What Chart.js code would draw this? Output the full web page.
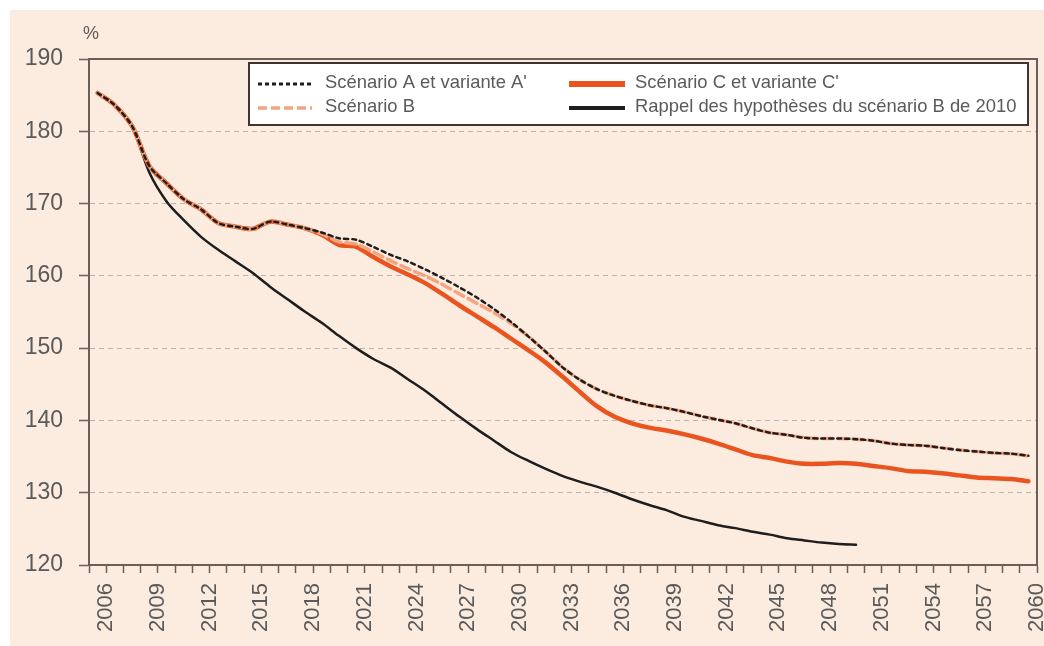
<!DOCTYPE html>
<html lang="fr">
<head>
<meta charset="UTF-8">
<title>Scénarios</title>
<script src="https://cdn.jsdelivr.net/npm/chart.js@4.4.0/dist/chart.umd.min.js"></script>
<style>
  html, body { margin: 0; padding: 0; background: #fff; }
  #wrap { position: relative; width: 1044px; height: 646px; }
</style>
</head>
<body>
<div id="wrap"><canvas id="chart"></canvas></div>
<script>
// categories: one per year, 2006 to 2060
const firstYear = 2006, lastYear = 2060;
const years = [];
for (let y = firstYear; y <= lastYear; y++) years.push(String(y));

// labels written under the axis (every 3 years)
const tickLabels = ['2006', '2009', '2012', '2015', '2018', '2021', '2024', '2027', '2030',
  '2033', '2036', '2039', '2042', '2045', '2048', '2051', '2054', '2057', '2060'];

// Scénario A et variante A'
const scenarioA = [185.3, 183.6, 180.7, 175.2, 172.8, 170.6, 169.2, 167.3, 166.8, 166.5,
  167.5, 167.1, 166.6, 166.0, 165.2, 165.0, 164.0, 162.9, 162.0, 160.9,
  159.7, 158.4, 157.0, 155.4, 153.6, 151.6, 149.5, 147.3, 145.6, 144.3,
  143.4, 142.7, 142.1, 141.7, 141.2, 140.6, 140.1, 139.6, 138.9, 138.3,
  138.0, 137.6, 137.5, 137.5, 137.4, 137.2, 136.8, 136.6, 136.5, 136.2,
  135.9, 135.7, 135.5, 135.4, 135.1];

// Scénario B
const scenarioB = [185.3, 183.6, 180.7, 175.2, 172.8, 170.6, 169.2, 167.3, 166.8, 166.5,
  167.5, 167.1, 166.6, 165.8, 164.7, 164.4, 163.3, 162.1, 161.0, 160.0,
  158.8, 157.5, 156.2, 154.9, 153.4, 151.6, 149.5, 147.3, 145.6, 144.3,
  143.4, 142.7, 142.1, 141.7, 141.2, 140.6, 140.1, 139.6, 138.9, 138.3,
  138.0, 137.6, 137.5, 137.5, 137.4, 137.2, 136.8, 136.6, 136.5, 136.2,
  135.9, 135.7, 135.5, 135.4, 135.1];

// Scénario C et variante C'
const scenarioC = [185.3, 183.6, 180.7, 175.2, 172.8, 170.6, 169.2, 167.3, 166.8, 166.5,
  167.5, 167.1, 166.6, 165.7, 164.3, 164.0, 162.6, 161.3, 160.2, 159.0,
  157.5, 155.9, 154.4, 152.9, 151.3, 149.7, 148.0, 146.0, 143.9, 141.9,
  140.5, 139.6, 139.0, 138.6, 138.1, 137.5, 136.8, 136.0, 135.2, 134.8,
  134.3, 134.0, 134.0, 134.1, 134.0, 133.7, 133.4, 133.0, 132.9, 132.7,
  132.4, 132.1, 132.0, 131.9, 131.6];

// Rappel des hypothèses du scénario B de 2010 (stops in 2050)
const rappel2010 = [185.3, 183.6, 180.7, 174.3, 170.3, 167.7, 165.4, 163.6, 162.0, 160.4,
  158.5, 156.8, 155.1, 153.5, 151.7, 150.0, 148.5, 147.3, 145.7, 144.1,
  142.3, 140.5, 138.8, 137.2, 135.6, 134.4, 133.3, 132.3, 131.5, 130.8,
  130.0, 129.1, 128.3, 127.6, 126.7, 126.1, 125.5, 125.1, 124.6, 124.2,
  123.7, 123.4, 123.1, 122.9, 122.8];

const PEACH = '#fcebdf';
const AXIS = '#6b5e58';
const TEXT = '#5a5a5a';
const FONT = '"Liberation Sans", Arial, sans-serif';

const decor = {
  id: 'decor',
  beforeDraw(chart) {
    const ctx = chart.ctx;
    ctx.save();
    ctx.fillStyle = '#ffffff';
    ctx.fillRect(0, 0, chart.width, chart.height);
    ctx.fillStyle = PEACH;
    ctx.fillRect(10, 10, chart.width - 10, chart.height - 10);
    ctx.restore();
  },
  afterDraw(chart) {
    const ctx = chart.ctx;
    const a = chart.chartArea;
    ctx.save();
    // top and right frame
    ctx.strokeStyle = AXIS;
    ctx.lineWidth = 2;
    ctx.beginPath();
    ctx.moveTo(a.left, a.top);
    ctx.lineTo(a.right, a.top);
    ctx.lineTo(a.right, a.bottom);
    ctx.stroke();

    // unit
    ctx.fillStyle = TEXT;
    ctx.font = '18px ' + FONT;
    ctx.textAlign = 'center';
    ctx.textBaseline = 'middle';
    ctx.fillText('%', a.left + 2, a.top - 25);

    // legend box
    const bx = a.left + 160, by = a.top + 4, bw = a.right - 9 - bx, bh = 62;
    ctx.fillStyle = '#ffffff';
    ctx.fillRect(bx, by, bw, bh);
    ctx.strokeStyle = '#3f3634';
    ctx.lineWidth = 2;
    ctx.strokeRect(bx, by, bw, bh);

    const ds = chart.data.datasets;
    const cols = [bx + 9, bx + 320];
    const rows = [by + 20, by + 44];
    const place = [[0, 0], [0, 1], [1, 0], [1, 1]]; // A, B, C, Rappel
    ctx.font = '18.4px ' + FONT;
    ctx.textAlign = 'left';
    ds.forEach((d, i) => {
      const x = cols[place[i][0]], y = rows[place[i][1]];
      const len = i < 2 ? 54 : 56;
      ctx.beginPath();
      ctx.setLineDash(d.legendDash || []);
      ctx.strokeStyle = d.borderColor;
      ctx.lineWidth = d.legendWidth;
      ctx.moveTo(x, y + 1);
      ctx.lineTo(x + len, y + 1);
      ctx.stroke();
      ctx.setLineDash([]);
      ctx.fillStyle = TEXT;
      ctx.fillText(d.label, x + len + (i < 2 ? 13 : 10), y);
    });
    ctx.restore();
  }
};

new Chart(document.getElementById('chart'), {
  type: 'line',
  data: {
    labels: years,
    datasets: [
      {
        label: "Scénario A et variante A'",
        data: scenarioA,
        borderColor: '#1e1e1e',
        borderWidth: 2.5,
        borderDash: [4, 4],
        legendDash: [4, 3],
        legendWidth: 3
      },
      {
        label: 'Scénario B',
        data: scenarioB,
        borderColor: '#f5a47f',
        borderWidth: 3.5,
        borderDash: [10, 5],
        legendDash: [9, 4],
        legendWidth: 3.5
      },
      {
        label: "Scénario C et variante C'",
        data: scenarioC,
        borderColor: '#e9541f',
        borderWidth: 4.5,
        legendWidth: 6
      },
      {
        label: 'Rappel des hypothèses du scénario B de 2010',
        data: rappel2010,
        borderColor: '#1e1e1e',
        borderWidth: 2.5,
        legendWidth: 4
      }
    ]
  },
  options: {
    responsive: true,
    maintainAspectRatio: false,
    animation: false,
    layout: { padding: { left: 0, top: 59, right: 7, bottom: 0 } },
    elements: {
      point: { radius: 0 },
      line: { tension: 0.3, fill: false, borderCapStyle: 'round' }
    },
    plugins: {
      legend: { display: false },
      tooltip: { enabled: false }
    },
    scales: {
      x: {
        type: 'category',
        offset: true,
        grid: {
          display: true,
          offset: true,
          drawOnChartArea: false,
          drawTicks: true,
          tickLength: 8,
          tickColor: AXIS,
          tickWidth: 1.5
        },
        border: { display: true, color: AXIS, width: 2 },
        ticks: {
          autoSkip: false,
          minRotation: 90,
          maxRotation: 90,
          labelOffset: 8.6,
          padding: 10,
          color: TEXT,
          font: { family: FONT, size: 22 },
          callback: function (value) {
            const lab = this.getLabelForValue(value);
            return tickLabels.includes(lab) ? lab : '';
          }
        },
        afterFit(scale) {
          scale.height = 81;
          scale.paddingLeft = 0;
          scale.paddingRight = 0;
        }
      },
      y: {
        min: 120,
        max: 190,
        ticks: {
          stepSize: 10,
          padding: 16,
          color: TEXT,
          font: { family: FONT, size: 23 }
        },
        grid: {
          color: '#bcb5b1',
          lineWidth: 1,
          tickLength: 10,
          tickColor: AXIS,
          tickWidth: 1.5,
          tickBorderDash: []
        },
        border: { display: true, color: AXIS, width: 2, dash: [5, 4] },
        afterFit(scale) {
          scale.width = 89;
          scale.paddingTop = 0;
          scale.paddingBottom = 0;
        }
      }
    }
  },
  plugins: [decor]
});
</script>
</body>
</html>
